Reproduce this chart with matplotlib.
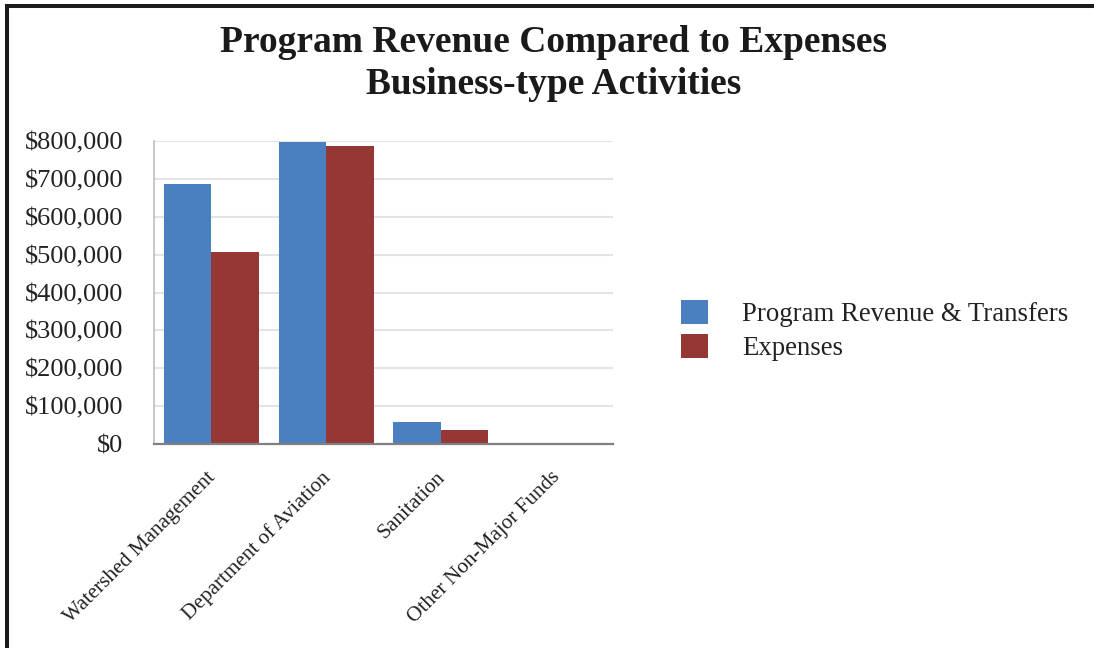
import matplotlib
matplotlib.use("Agg")
import matplotlib.pyplot as plt
from matplotlib.patches import Patch
from matplotlib.lines import Line2D
from matplotlib.ticker import FuncFormatter, MultipleLocator

plt.rcParams['font.family'] = ['Liberation Serif', 'DejaVu Serif']

categories = ["Watershed Management", "Department of Aviation", "Sanitation",
              "Other Non-Major Funds"]
revenue = [687000, 797000, 58000, 0]
expenses = [507000, 786000, 37000, 0]
series_names = ["Program Revenue & Transfers", "Expenses"]
colors = ["#4a80bf", "#953735"]

W, H = 1094, 648
fig = plt.figure(figsize=(W / 100, H / 100), dpi=100)
ax = fig.add_axes([154 / W, 1 - 444 / H, (613 - 154) / W, (444 - 141) / H])

x = list(range(len(categories)))
bw = 0.413
ax.bar([i - bw / 2 for i in x], revenue, width=bw, color=colors[0], zorder=3)
ax.bar([i + bw / 2 for i in x], expenses, width=bw, color=colors[1], zorder=3)

ax.set_xlim(-0.5, len(categories) - 0.5)
ax.set_ylim(0, 800000)
ax.yaxis.set_major_locator(MultipleLocator(100000))
ax.yaxis.set_major_formatter(FuncFormatter(lambda v, p: f"${v:,.0f}"))
ax.grid(axis='y', color='#e4e4e4', linewidth=1.5, zorder=0)
ax.set_axisbelow(True)

ax.set_xticks(x)
ax.set_xticklabels(categories, rotation=45, ha='right', va='top',
                   rotation_mode='anchor')
for lbl in ax.get_xticklabels():
    lbl.set_x(lbl.get_position()[0])
ax.tick_params(axis='x', length=0, pad=17, labelsize=15.3, colors='#222222')
ax.tick_params(axis='y', length=0, pad=22, labelsize=19, colors='#222222')

# shift category labels slightly left of their ticks
from matplotlib.transforms import ScaledTranslation
shift = ScaledTranslation(-5 / 100, 0, fig.dpi_scale_trans)
for lbl in ax.get_xticklabels():
    lbl.set_transform(lbl.get_transform() + shift)

for s in ['top', 'right']:
    ax.spines[s].set_visible(False)
ax.spines['bottom'].set_color('#808080')
ax.spines['bottom'].set_linewidth(1.6)
ax.spines['bottom'].set_zorder(4)
ax.spines['left'].set_color('#bdbdbd')
ax.spines['left'].set_linewidth(1.2)

# Title
fig.text(554 / W, 1 - 42 / H, "Program Revenue Compared to Expenses",
         ha='center', va='center', fontsize=27, fontweight='bold', color='#1a1a1a')
fig.text(554 / W, 1 - 85 / H, "Business-type Activities",
         ha='center', va='center', fontsize=27, fontweight='bold', color='#1a1a1a')

# Legend
handles = [Patch(facecolor=c, edgecolor='none') for c in colors]
fig.legend(handles, series_names, loc='upper left',
           bbox_to_anchor=(681 / W, 1 - 300 / H), frameon=False,
           fontsize=19.3, handlelength=1.0, handleheight=1.0,
           handletextpad=1.27, labelspacing=0.25, borderpad=0,
           borderaxespad=0, labelcolor='#222222')

# Frame lines along the top and left edges
fig.add_artist(Line2D([7 / W, 7 / W], [0, 1 - 6 / H], transform=fig.transFigure,
                      color='#1a1a1a', linewidth=2.9, solid_capstyle='projecting'))
fig.add_artist(Line2D([7 / W, 1], [1 - 6 / H, 1 - 6 / H], transform=fig.transFigure,
                      color='#1a1a1a', linewidth=2.9, solid_capstyle='projecting'))

fig.savefig("out.png", dpi=100)
